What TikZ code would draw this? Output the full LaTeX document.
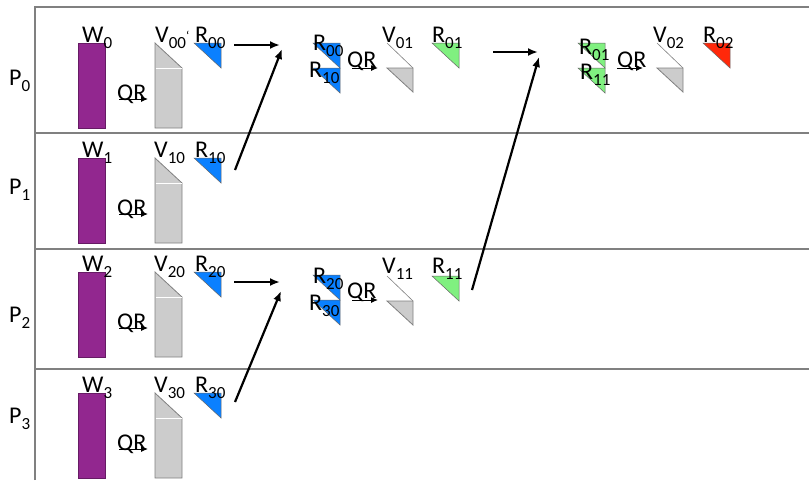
\documentclass[tikz,border=0pt]{standalone}
\usepackage{fontspec}
\setmainfont{Carlito}
\usetikzlibrary{arrows.meta}

\definecolor{wpurple}{RGB}{146,39,143}
\definecolor{vgrey}{RGB}{204,204,204}
\definecolor{rblue}{RGB}{10,128,255}
\definecolor{rgreen}{RGB}{128,240,128}
\definecolor{rred}{RGB}{255,40,10}

% letter with a lowered index
\newcommand{\sbs}[2]{#1\raisebox{-6pt}{\fontsize{17}{17}\selectfont #2}}
% R block: triangle of colour #1 with top left corner at (#2,#3)
\newcommand{\rtri}[3]{\filldraw[tri,fill=#1] (#2,#3) -- ++(27,0) -- ++(0,25) -- cycle;}
% reduced V block with top left corner at (#1,#2)
\newcommand{\vsmall}[2]{%
  \draw[vedge,line width=0.6pt] (#1,#2) -- ++(26,25);
  \filldraw[vedge,fill=vgrey] (#1,{#2+25}) -- ++(26,0) -- ++(0,24) -- cycle;}

\tikzset{
  txt/.style={anchor=base west, inner sep=0pt, font=\fontsize{24}{27}\selectfont},
  frame/.style={draw=black!50, line width=1.3pt},
  flow/.style={-{Latex[length=10pt,width=8pt]}, line width=2.2pt},
  qrflow/.style={-{Latex[length=7pt,width=6pt]}, line width=1pt},
  tri/.style={draw=black!60, line width=0.5pt},
  vedge/.style={draw=black!50, line width=0.8pt},
}

\begin{document}
\begin{tikzpicture}[x=1pt,y=-1pt]
  \useasboundingbox (0,0) rectangle (809,480);

  % Frame
  \draw[frame] (35,480) -- (35,7) -- (809,7);
  \foreach \h in {133,249,369}
    \draw[frame] (35,\h) -- (809,\h);

  % Local QR on every processor
  \foreach \r/\y/\py in {0/43/85, 1/158/194, 2/272/322, 3/393/423} {
    \node[txt] (p\r) at (9,\py) {\sbs{P}{\r}};
    \filldraw[fill=wpurple,draw=wpurple!70!black,line width=0.6pt] (78,\y) rectangle (105,{\y+85});
    \node[txt] (w\r) at (82,{\y-1}) {\sbs{W}{\r}};
    \coordinate (qa\r) at (119,{\y+56});
    \coordinate (qb\r) at (148,{\y+56});
    \draw[qrflow] (qa\r) -- (qb\r);
    \node[txt] (qr\r) at (117,{\y+57}) {QR};
    \filldraw[vedge,fill=vgrey] (155,\y) -- (182,{\y+25}) -- (182,{\y+85}) -- (155,{\y+85}) -- cycle;
    \draw[white,line width=0.7pt] (155.5,{\y+25}) -- (181.5,{\y+25});
    \rtri{rblue}{194}{\y}
    \node[txt] (r\r) at (195,{\y-1}) {\sbs{R}{\r0}};
  }
  \node[txt] (v0) at (155,42) {\sbs{V}{00}\raisebox{2pt}{\fontsize{13}{13}\selectfont`}};
  \node[txt] (v1) at (154,157) {\sbs{V}{10}};
  \node[txt] (v2) at (154,271) {\sbs{V}{20}};
  \node[txt] (v3) at (154,392) {\sbs{V}{30}};

  % Second level, P0
  \rtri{rblue}{313}{43}
  \rtri{rblue}{313}{68}
  \node[txt] (r00b) at (313,50) {\sbs{R}{00}};
  \node[txt] (r10b) at (309,77) {\sbs{R}{10}};
  \coordinate (qa4) at (352,68);
  \coordinate (qb4) at (378,68);
  \draw[qrflow] (qa4) -- (qb4);
  \node[txt] (qr4) at (347,67) {QR};
  \vsmall{387}{43}
  \node[txt] (v01) at (382,42) {\sbs{V}{01}};
  \rtri{rgreen}{432}{43}
  \node[txt] (r01) at (432,42) {\sbs{R}{01}};

  % Second level, P2
  \rtri{rblue}{313}{275}
  \rtri{rblue}{313}{300}
  \node[txt] (r20b) at (313,283) {\sbs{R}{20}};
  \node[txt] (r30b) at (309,310) {\sbs{R}{30}};
  \coordinate (qa5) at (352,300);
  \coordinate (qb5) at (378,300);
  \draw[qrflow] (qa5) -- (qb5);
  \node[txt] (qr5) at (347,298) {QR};
  \vsmall{387}{276}
  \node[txt] (v11) at (382,273) {\sbs{V}{11}};
  \rtri{rgreen}{432}{276}
  \node[txt] (r11) at (432,273) {\sbs{R}{11}};

  % Third level, P0
  \rtri{rgreen}{578}{43}
  \rtri{rgreen}{578}{68}
  \node[txt] (r01b) at (579,54) {\sbs{R}{01}};
  \node[txt] (r11b) at (580,79) {\sbs{R}{11}};
  \coordinate (qa6) at (617,68);
  \coordinate (qb6) at (643,68);
  \draw[qrflow] (qa6) -- (qb6);
  \node[txt] (qr6) at (617,67) {QR};
  \vsmall{657}{43}
  \node[txt] (v02) at (653,42) {\sbs{V}{02}};
  \rtri{rred}{703}{43}
  \node[txt] (r02) at (703,42) {\sbs{R}{02}};

  % Reduction arrows
  \coordinate (s0) at (234,45);   \coordinate (t0) at (280,45);
  \coordinate (s1) at (235,170);  \coordinate (t1) at (282,49);
  \coordinate (s2) at (234,282);  \coordinate (t2) at (280,282);
  \coordinate (s3) at (235,402);  \coordinate (t3) at (281,291);
  \coordinate (s4) at (493,52);   \coordinate (t4) at (538,52);
  \coordinate (s5) at (472,290);  \coordinate (t5) at (539,57);
  \foreach \a in {0,...,5}
    \draw[flow] (s\a) -- (t\a);
\end{tikzpicture}
\end{document}
